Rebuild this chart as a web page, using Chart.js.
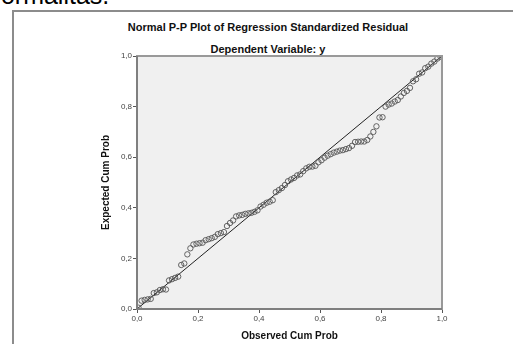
<!DOCTYPE html>
<html>
<head>
<meta charset="utf-8">
<script src="https://cdn.jsdelivr.net/npm/chart.js@4"></script>
<style>
  html, body { margin: 0; padding: 0; background: #fff; overflow: hidden; }
  body { width: 513px; height: 344px; position: relative; font-family: "Liberation Sans", Arial, sans-serif; }
  .doc-text { position: absolute; left: -13px; top: -17px; font-size: 25px; line-height: 24px; color: #000; white-space: nowrap; }
  .frame { position: absolute; left: 12px; top: 10px; width: 520px; height: 400px; border: 2px solid #8c8c8c; }
  .title { position: absolute; left: 0; width: 536px; text-align: center; font-weight: bold; font-size: 11px; color: #111; }
  #wrap { position: absolute; left: 0; top: 0; width: 513px; height: 344px; }
</style>
</head>
<body>
<div class="doc-text">normalitas.</div>
<div class="frame"></div>
<div class="title" style="top:21px">Normal P-P Plot of Regression Standardized Residual</div>
<div class="title" style="top:43px">Dependent Variable: y</div>
<div id="wrap"><canvas id="chartPP" width="513" height="344"></canvas></div>
<script>
/* ---------- Data ---------- */
const observedCumProb = [
  0.005, 0.015, 0.025, 0.035, 0.045, 0.055, 0.065, 0.075, 0.085, 0.095,
  0.105, 0.115, 0.125, 0.135, 0.145, 0.155, 0.165, 0.175, 0.185, 0.195,
  0.205, 0.215, 0.225, 0.235, 0.245, 0.255, 0.265, 0.275, 0.285, 0.295,
  0.305, 0.315, 0.325, 0.335, 0.345, 0.355, 0.365, 0.375, 0.385, 0.395,
  0.405, 0.415, 0.425, 0.435, 0.445, 0.455, 0.465, 0.475, 0.485, 0.495,
  0.505, 0.515, 0.525, 0.535, 0.545, 0.555, 0.565, 0.575, 0.585, 0.595,
  0.605, 0.615, 0.625, 0.635, 0.645, 0.655, 0.665, 0.675, 0.685, 0.695,
  0.705, 0.715, 0.725, 0.735, 0.745, 0.755, 0.765, 0.775, 0.785, 0.795,
  0.805, 0.815, 0.825, 0.835, 0.845, 0.855, 0.865, 0.875, 0.885, 0.895,
  0.905, 0.915, 0.925, 0.935, 0.945, 0.955, 0.965, 0.975, 0.985, 0.995
];
const expectedCumProb = [
  0.005, 0.033, 0.036, 0.038, 0.040, 0.063, 0.066, 0.075, 0.078, 0.077,
  0.113, 0.118, 0.123, 0.128, 0.174, 0.180, 0.216, 0.240, 0.255, 0.258,
  0.260, 0.262, 0.272, 0.276, 0.280, 0.285, 0.296, 0.300, 0.304, 0.328,
  0.340, 0.350, 0.366, 0.370, 0.372, 0.376, 0.378, 0.380, 0.384, 0.390,
  0.405, 0.412, 0.420, 0.424, 0.430, 0.462, 0.470, 0.478, 0.490, 0.505,
  0.512, 0.518, 0.528, 0.532, 0.545, 0.556, 0.562, 0.563, 0.566, 0.580,
  0.588, 0.598, 0.606, 0.612, 0.618, 0.622, 0.626, 0.628, 0.632, 0.636,
  0.645, 0.660, 0.661, 0.662, 0.662, 0.668, 0.682, 0.700, 0.722, 0.757,
  0.758, 0.800, 0.808, 0.812, 0.820, 0.826, 0.840, 0.854, 0.862, 0.874,
  0.900, 0.908, 0.930, 0.935, 0.952, 0.958, 0.970, 0.978, 0.990, 0.997
];
const diagonal = [{ x: 0, y: 0 }, { x: 1, y: 1 }];
const tickValues = [0, 0.2, 0.4, 0.6, 0.8, 1.0];
const tickLabels = ['0,0', '0,2', '0,4', '0,6', '0,8', '1,0'];

/* ---------- Plot background + frame ---------- */
const plotFrame = {
    id: 'plotFrame',
    beforeDatasetsDraw(chart) {
        const a = chart.chartArea, c = chart.ctx;
        c.save();
        c.fillStyle = '#f0f0f0';
        c.fillRect(a.left, a.top, a.right - a.left, a.bottom - a.top);
        c.restore();
    },
    afterDraw(chart) {
        const a = chart.chartArea, c = chart.ctx;
        c.save();
        c.strokeStyle = '#999';
        c.lineWidth = 2;
        c.strokeRect(a.left, a.top, a.right - a.left, a.bottom - a.top);
        // axis lines a bit darker, like the original
        c.strokeStyle = '#777';
        c.lineWidth = 1.5;
        c.beginPath();
        c.moveTo(a.left, a.top);
        c.lineTo(a.left, a.bottom);
        c.lineTo(a.right, a.bottom);
        c.stroke();
        c.restore();
    }
};

function axisOpts(titleText, isY) {
    return {
        type: 'linear', min: 0, max: 1,
        afterBuildTicks: s => { s.ticks = tickValues.map(v => ({ value: v })); },
        afterFit: s => { if (isY) s.width = 37; else s.height = 33; },
        ticks: {
            color: '#444', font: { size: 8, family: "'Liberation Sans', Arial, sans-serif" },
            padding: 1, maxRotation: 0,
            callback: (v, i) => tickLabels[i]
        },
        grid: { drawOnChartArea: false, drawTicks: true, tickLength: 4, color: '#555' },
        border: { display: false },
        title: {
            display: true, text: titleText, color: '#111',
            font: { size: 10, weight: 'bold', family: "'Liberation Sans', Arial, sans-serif" },
            padding: isY ? { top: 0, bottom: 4 } : { top: 3, bottom: 0 }
        }
    };
}

new Chart(document.getElementById('chartPP'), {
    type: 'scatter',
    data: {
        datasets: [{
            data: observedCumProb.map((x, i) => ({ x: x, y: expectedCumProb[i] })),
            pointStyle: 'circle',
            pointRadius: 2.7,
            borderColor: '#555',
            borderWidth: 0.9,
            backgroundColor: 'rgba(0,0,0,0)'
        }, {
            type: 'line',
            data: diagonal,
            borderColor: '#222',
            borderWidth: 1,
            pointRadius: 0,
            fill: false
        }]
    },
    options: {
        responsive: false, animation: false,
        layout: { padding: { left: 100, right: 71, top: 56, bottom: 2 } },
        plugins: { legend: { display: false }, tooltip: { enabled: false } },
        scales: {
            x: axisOpts('Observed Cum Prob', false),
            y: axisOpts('Expected Cum Prob', true)
        }
    },
    plugins: [plotFrame]
});
</script>
</body>
</html>
